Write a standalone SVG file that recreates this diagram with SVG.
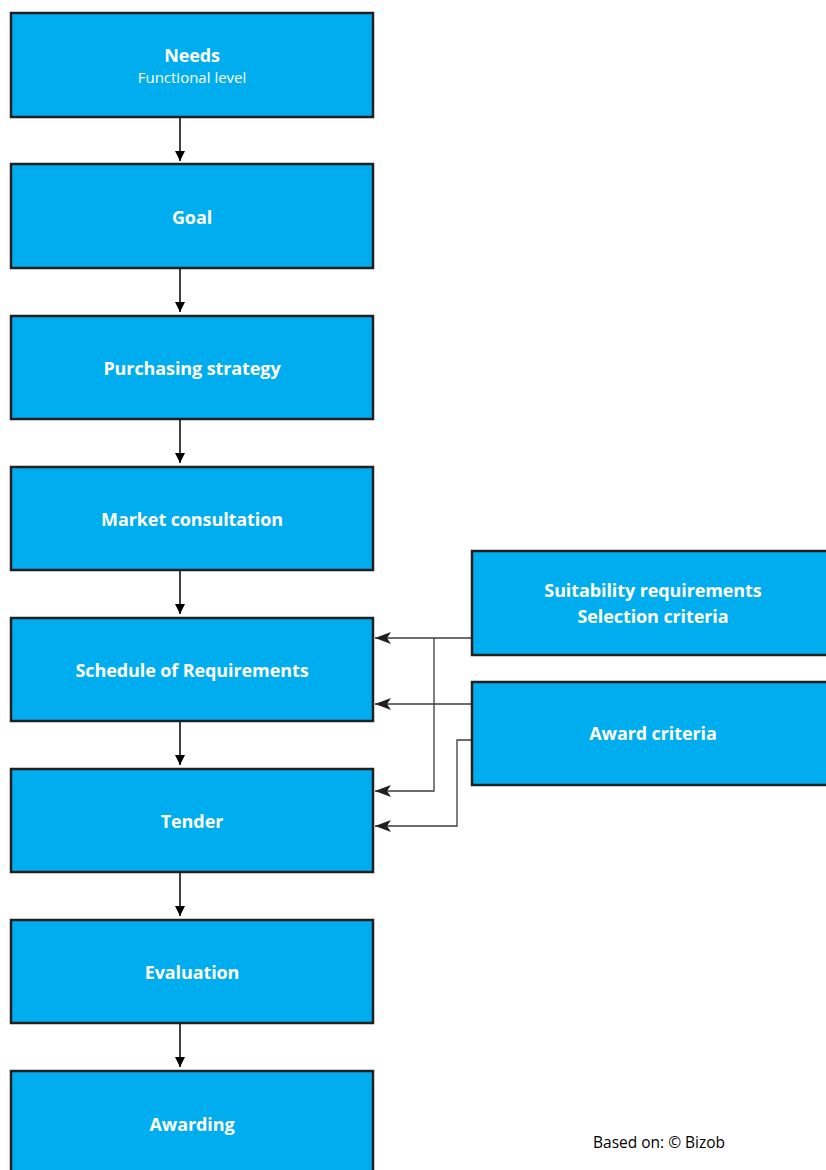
<svg xmlns="http://www.w3.org/2000/svg" width="826" height="1170" viewBox="0 0 826 1170">
<style>
.box{fill:#00AEEF;stroke:#231F20;stroke-width:2.5}
.t{font-family:"Open Sans","Noto Sans",sans-serif;font-weight:700;font-size:18px;fill:#fff;text-anchor:middle;letter-spacing:-0.1px}
.s{font-family:"Open Sans","Noto Sans",sans-serif;font-size:15px;fill:#fff;text-anchor:middle}
.c{fill:none;stroke:#000;stroke-width:1.5}
.g{fill:none;stroke:#3c3c3c;stroke-width:1.3}
.note{font-family:"Open Sans","Noto Sans",sans-serif;font-size:15.5px;fill:#000}
</style>
<defs>
<marker id="a" viewBox="0 0 10 10" refX="10" refY="5" markerWidth="10" markerHeight="10" markerUnits="userSpaceOnUse" orient="auto"><path d="M0,0L10,5L0,10Z" fill="#000"/></marker>
<marker id="b" viewBox="0 0 16 12" refX="16" refY="6" markerWidth="16" markerHeight="12" markerUnits="userSpaceOnUse" orient="auto"><path d="M0,0L16,6L0,12L4,6Z" fill="#231F20"/></marker>
</defs>
<rect width="826" height="1170" fill="#fff"/>
<g id="connectors">
<line class="c" x1="180" y1="117" x2="180" y2="161" marker-end="url(#a)"/>
<line class="c" x1="180" y1="268" x2="180" y2="312" marker-end="url(#a)"/>
<line class="c" x1="180" y1="419" x2="180" y2="463" marker-end="url(#a)"/>
<line class="c" x1="180" y1="570" x2="180" y2="614" marker-end="url(#a)"/>
<line class="c" x1="180" y1="721" x2="180" y2="765" marker-end="url(#a)"/>
<line class="c" x1="180" y1="872" x2="180" y2="916" marker-end="url(#a)"/>
<line class="c" x1="180" y1="1023" x2="180" y2="1067" marker-end="url(#a)"/>
<path class="g" d="M472,638H375" marker-end="url(#b)"/>
<path class="g" d="M434,638V791H375" marker-end="url(#b)"/>
<path class="g" d="M472,704H375" marker-end="url(#b)"/>
<path class="g" d="M472,740H457V826H375" marker-end="url(#b)"/>
</g>
<g id="needs"><rect class="box" x="11" y="13" width="362" height="104"/><text class="t" x="192" y="62">Needs</text><text class="s" x="192" y="83">Functional level</text></g>
<g id="goal"><rect class="box" x="11" y="164" width="362" height="104"/><text class="t" x="192" y="224">Goal</text></g>
<g id="purchasing"><rect class="box" x="11" y="316" width="362" height="103"/><text class="t" x="192" y="375">Purchasing strategy</text></g>
<g id="market"><rect class="box" x="11" y="467" width="362" height="103"/><text class="t" x="192" y="526">Market consultation</text></g>
<g id="schedule"><rect class="box" x="11" y="618" width="362" height="103"/><text class="t" x="192" y="677">Schedule of Requirements</text></g>
<g id="tender"><rect class="box" x="11" y="769" width="362" height="103"/><text class="t" x="192" y="828">Tender</text></g>
<g id="evaluation"><rect class="box" x="11" y="920" width="362" height="103"/><text class="t" x="192" y="979">Evaluation</text></g>
<g id="awarding"><rect class="box" x="11" y="1071" width="362" height="110"/><text class="t" x="192" y="1131">Awarding</text></g>
<g id="suitability"><rect class="box" x="472" y="551" width="360" height="104"/><text class="t" x="653" y="597">Suitability requirements</text><text class="t" x="653" y="623">Selection criteria</text></g>
<g id="award"><rect class="box" x="472" y="682" width="360" height="103"/><text class="t" x="653" y="740">Award criteria</text></g>
<text class="note" x="593" y="1148">Based on: © Bizob</text>
</svg>
